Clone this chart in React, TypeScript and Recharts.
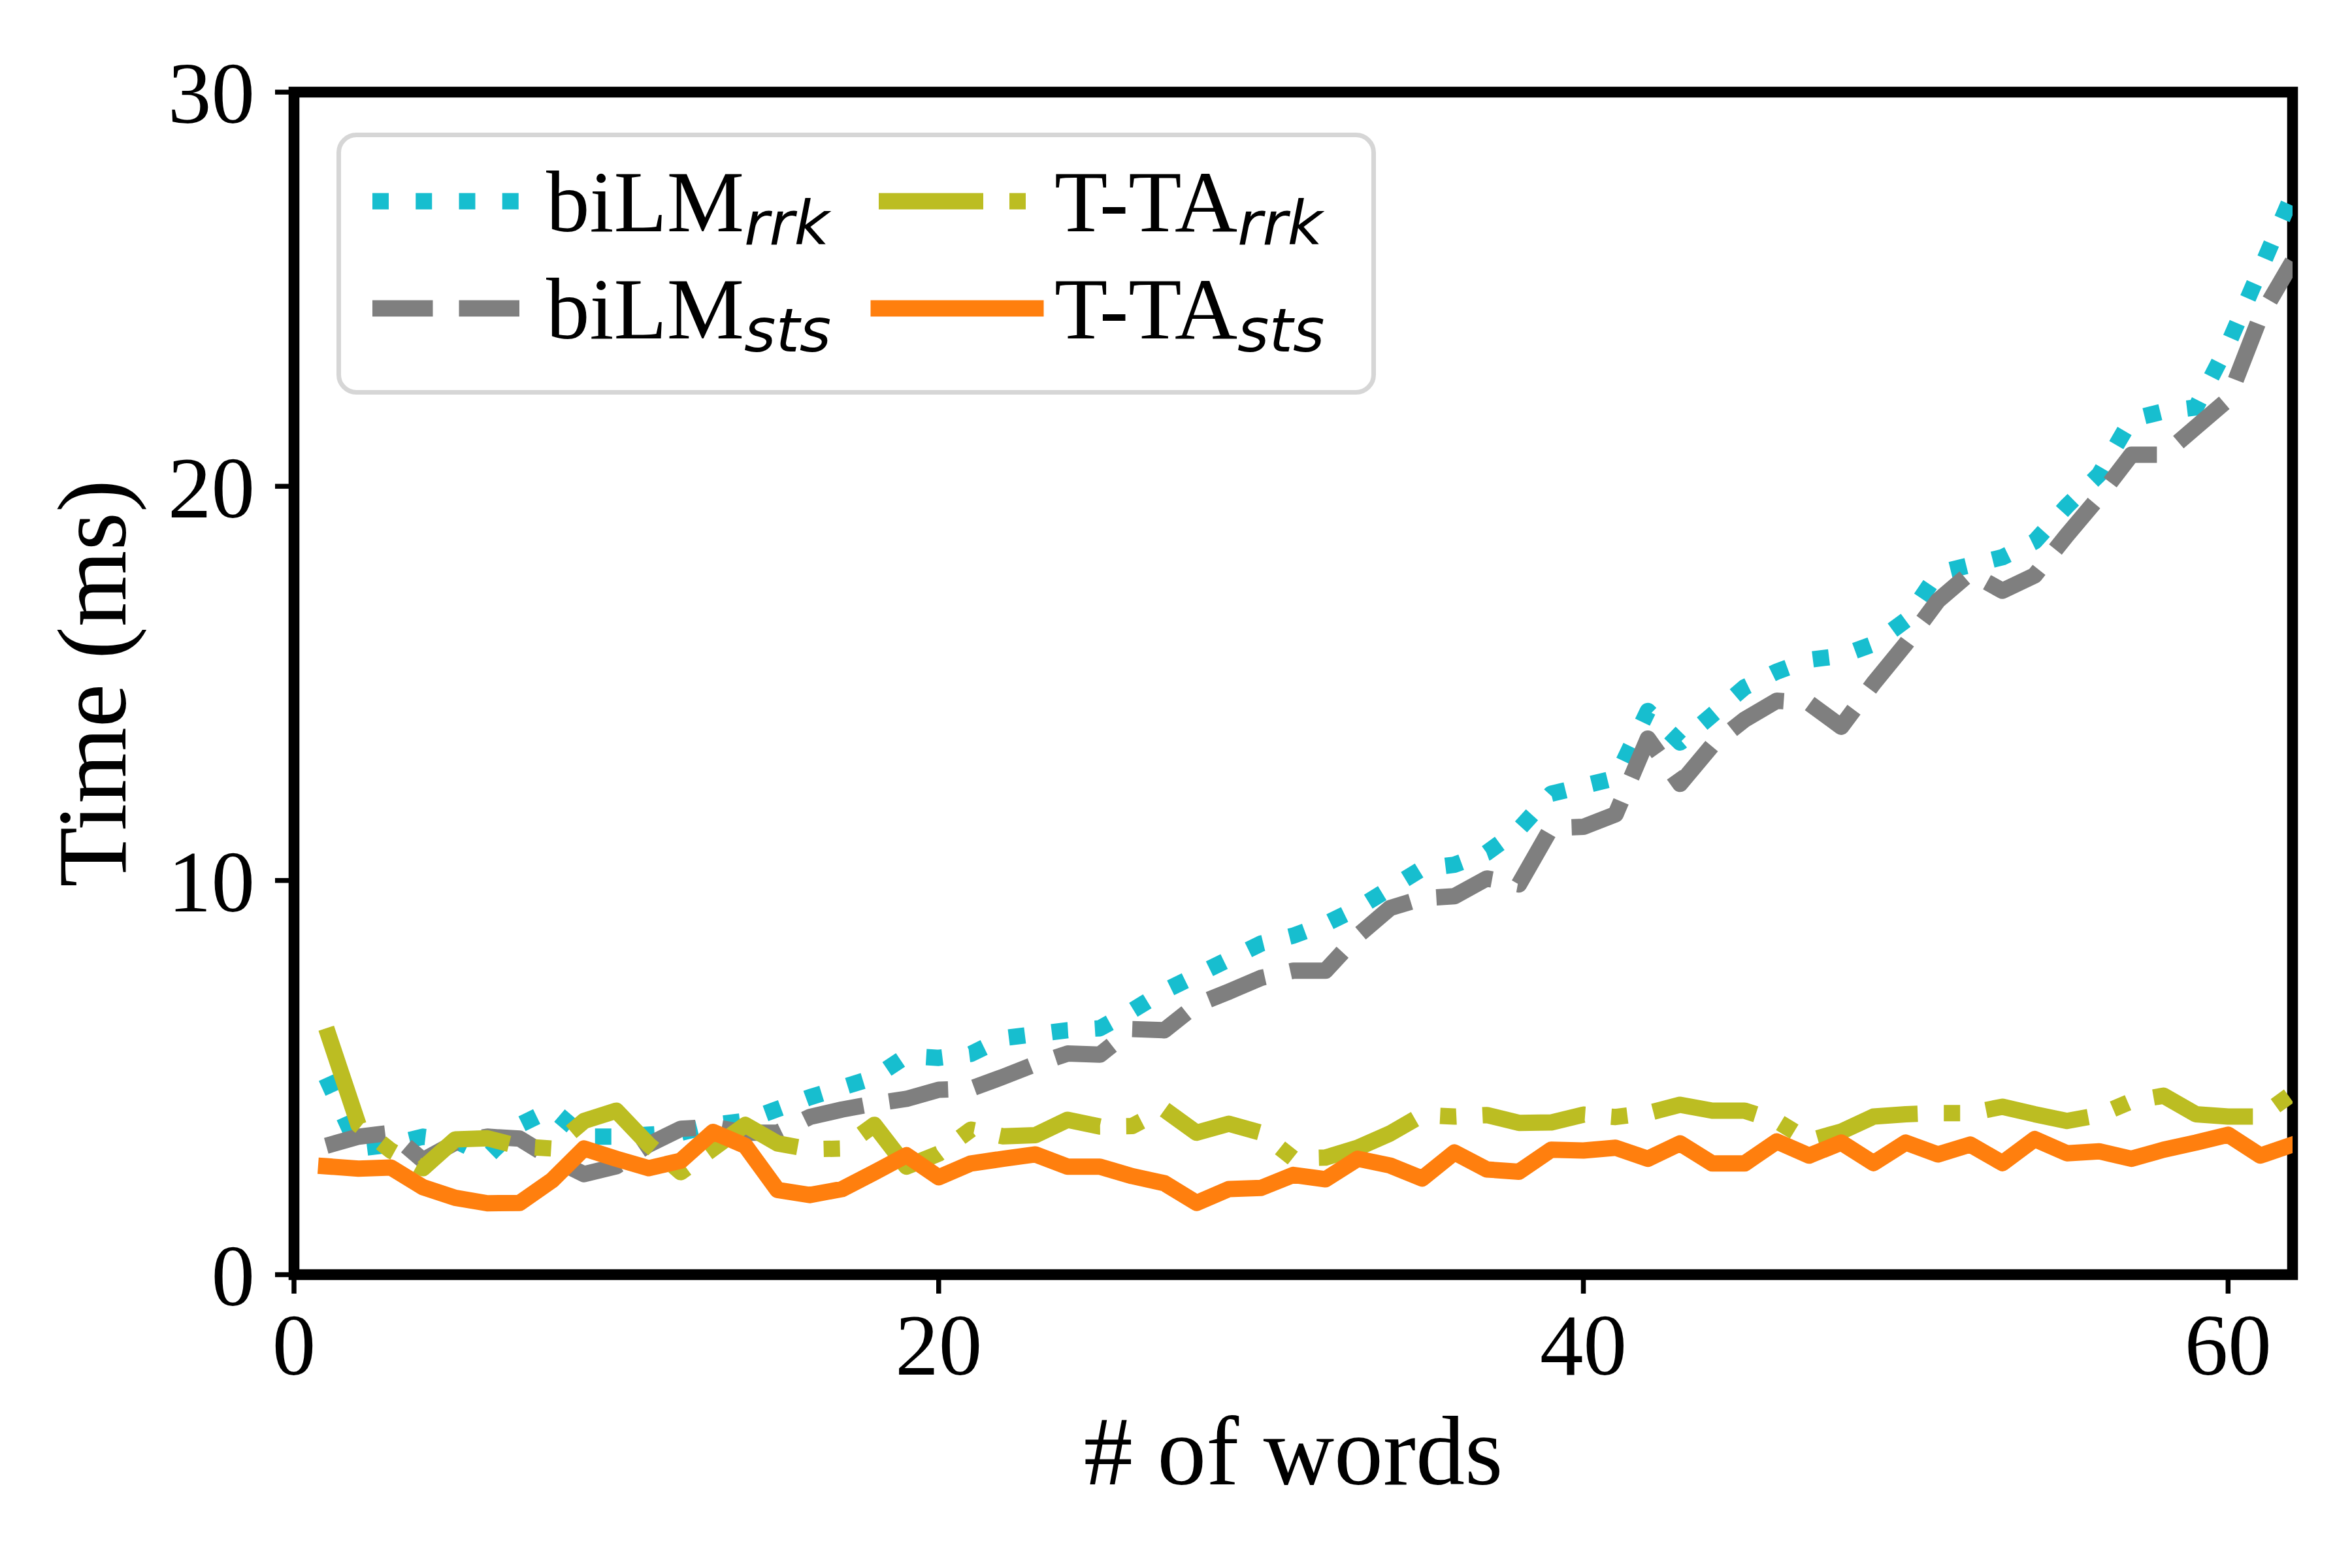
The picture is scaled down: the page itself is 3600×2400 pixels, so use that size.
import {
  LineChart,
  Line,
  XAxis,
  YAxis,
  Legend,
  ReferenceArea,
} from 'recharts';

const FONT = '"Liberation Serif", "Times New Roman", serif';
const SUB_FONT = '"DejaVu Sans", sans-serif';

// number of words (x axis)
const words = [
  1, 2, 3, 4, 5, 6, 7, 8, 9, 10, 11, 12, 13, 14, 15, 16, 17, 18, 19, 20, 21,
  22, 23, 24, 25, 26, 27, 28, 29, 30, 31, 32, 33, 34, 35, 36, 37, 38, 39, 40,
  41, 42, 43, 44, 45, 46, 47, 48, 49, 50, 51, 52, 53, 54, 55, 56, 57, 58, 59,
  60, 61, 62,
];

// time in ms
const biLMrrk = [
  5.0, 3.2, 3.3, 3.5, 3.4, 3.0, 3.8, 4.2, 3.5, 3.5,
  3.55, 3.6, 3.8, 3.9, 4.2, 4.5, 4.75, 5.0, 5.55, 5.5,
  5.6, 6.0, 6.1, 6.2, 6.25, 6.7, 7.2, 7.6, 8.0, 8.4,
  8.6, 8.9, 9.3, 9.8, 10.3, 10.4, 10.7, 11.3, 12.2, 12.4,
  12.6, 14.3, 13.5, 14.2, 14.9, 15.3, 15.6, 15.7, 16.0, 16.6,
  17.8, 18.0, 18.2, 18.6, 19.5, 20.3, 21.7, 21.9, 22.0, 23.6,
  25.5, 27.4,
];

const biLMsts = [
  3.27, 3.5, 3.6, 2.9, 3.35, 3.5, 3.45, 2.95, 2.55, 2.75,
  3.3, 3.7, 3.75, 3.6, 3.6, 4.0, 4.19, 4.34, 4.46, 4.69,
  4.72, 5.02, 5.34, 5.61, 5.58, 6.23, 6.2, 6.85, 7.18, 7.53,
  7.71, 7.71, 8.6, 9.3, 9.55, 9.6, 10.05, 9.9, 11.33, 11.36,
  11.68, 13.6, 12.45, 13.43, 14.08, 14.56, 14.5, 13.9, 15.0, 16.0,
  17.1, 17.8, 17.35, 17.74, 18.76, 19.73, 20.8, 20.8, 21.5, 22.2,
  24.3, 25.7,
];

const ttaRrk = [
  6.25, 3.8, 3.15, 2.7, 3.43, 3.46, 3.25, 3.2, 3.9, 4.16,
  3.3, 2.6, 3.2, 3.8, 3.33, 3.18, 3.2, 3.8, 2.74, 3.07,
  3.68, 3.51, 3.54, 3.93, 3.76, 3.77, 4.19, 3.6, 3.83, 3.6,
  2.95, 2.97, 3.22, 3.58, 4.05, 4.01, 4.05, 3.85, 3.86, 4.06,
  4.0, 4.1, 4.31, 4.16, 4.16, 3.9, 3.4, 3.63, 4.01, 4.07,
  4.1, 4.1, 4.26, 4.07, 3.9, 4.05, 4.4, 4.54, 4.07, 4.01,
  4.01, 4.6,
];

const ttaSts = [
  2.75, 2.69, 2.72, 2.22, 1.95, 1.81, 1.82, 2.39, 3.2, 2.94,
  2.7, 2.89, 3.62, 3.27, 2.15, 2.02, 2.17, 2.59, 3.03, 2.47,
  2.82, 2.94, 3.05, 2.74, 2.74, 2.5, 2.32, 1.82, 2.17, 2.2,
  2.53, 2.42, 2.94, 2.77, 2.44, 3.1, 2.67, 2.61, 3.17, 3.15,
  3.22, 2.94, 3.33, 2.82, 2.82, 3.38, 3.02, 3.35, 2.83, 3.35,
  3.05, 3.3, 2.83, 3.44, 3.08, 3.13, 2.94, 3.17, 3.35, 3.55,
  3.02, 3.3,
];

const xTicks = [0, 20, 40, 60];
const yTicks = [0, 10, 20, 30];

const LW = 25;

// legend order: column by column, like matplotlib with ncol=2
const series = [
  { key: 'biLMrrk', base: 'biLM', sub: 'rrk', color: '#17becf', dash: `${LW} ${LW * 1.65}`, cap: 'butt' },
  { key: 'biLMsts', base: 'biLM', sub: 'sts', color: '#7f7f7f', dash: `${LW * 3.7} ${LW * 1.6}`, cap: 'butt' },
  { key: 'ttaRrk', base: 'T-TA', sub: 'rrk', color: '#bcbd22', dash: `${LW * 6.4} ${LW * 1.6} ${LW} ${LW * 1.6}`, cap: 'butt' },
  { key: 'ttaSts', base: 'T-TA', sub: 'sts', color: '#ff7f0e', dash: undefined, cap: 'square' },
];

const data = words.map((w, i) => ({
  words: w,
  biLMrrk: biLMrrk[i],
  biLMsts: biLMsts[i],
  ttaRrk: ttaRrk[i],
  ttaSts: ttaSts[i],
}));

function LegendBox() {
  const rows = [105, 269];
  const cols = [
    { x1: 55, x2: 295, tx: 321 },
    { x1: 830, x2: 1070, tx: 1099 },
  ];
  return (
    <svg width={1591} height={401} style={{ display: 'block' }}>
      <rect
        x={3.5}
        y={3.5}
        width={1584}
        height={394}
        rx={27}
        fill="#fff"
        stroke="#d6d6d6"
        strokeWidth={7}
      />
      {series.map((s, i) => {
        const c = cols[Math.floor(i / 2)];
        const y = rows[i % 2];
        return (
          <g key={s.key}>
            <line
              x1={c.x1}
              x2={c.x2}
              y1={y}
              y2={y}
              stroke={s.color}
              strokeWidth={LW}
              strokeDasharray={s.dash}
              strokeLinecap={s.cap as any}
            />
            <text x={c.tx} y={y + 46} fontFamily={FONT} fontSize={133} fill="#000">
              {s.base}
              <tspan fontFamily={SUB_FONT} fontStyle="italic" fontSize={93} dy={20}>
                {s.sub}
              </tspan>
            </text>
          </g>
        );
      })}
    </svg>
  );
}

const tickStyle = { fontSize: 133, fontFamily: FONT, fill: '#000' };

export default function App() {
  return (
    <div style={{ position: 'absolute', left: 0, top: 0, background: '#fff' }}>
      <LineChart
        width={3600}
        height={2400}
        data={data}
        margin={{ top: 141, right: 91, bottom: 0, left: 0 }}
      >
        <XAxis
          dataKey="words"
          type="number"
          domain={[0, 62]}
          ticks={xTicks}
          interval={0}
          allowDataOverflow
          height={449}
          axisLine={false}
          tickLine={{ stroke: '#000', strokeWidth: 7.5 }}
          tickSize={29}
          tickMargin={30}
          tick={tickStyle}
          label={(props: any) => {
            const vb = props.viewBox;
            return (
              <text
                x={vb.x + vb.width / 2}
                y={vb.y + 321}
                textAnchor="middle"
                fontFamily={FONT}
                fontSize={150}
                fill="#000"
              >
                # of words
              </text>
            );
          }}
        />
        <YAxis
          type="number"
          domain={[0, 30]}
          ticks={yTicks}
          interval={0}
          allowDataOverflow
          width={450}
          axisLine={false}
          tickLine={{ stroke: '#000', strokeWidth: 7.5 }}
          tickSize={29}
          tickMargin={31}
          tick={tickStyle}
          label={(props: any) => {
            const vb = props.viewBox;
            const cx = 192;
            const cy = vb.y + vb.height / 2;
            return (
              <text
                x={cx}
                y={cy}
                transform={`rotate(-90, ${cx}, ${cy})`}
                textAnchor="middle"
                fontFamily={FONT}
                fontSize={150}
                fill="#000"
              >
                Time (ms)
              </text>
            );
          }}
        />
        {series.map((s) => (
          <Line
            key={s.key}
            dataKey={s.key}
            type="linear"
            stroke={s.color}
            strokeWidth={LW}
            strokeDasharray={s.dash}
            strokeLinejoin="round"
            strokeLinecap={s.cap as any}
            dot={false}
            activeDot={false}
            isAnimationActive={false}
          />
        ))}
        <ReferenceArea
          x1={0}
          x2={62}
          y1={0}
          y2={30}
          fill="none"
          stroke="#000"
          strokeWidth={16.6}
        />
        <Legend
          layout="horizontal"
          verticalAlign="middle"
          align="center"
          content={() => <LegendBox />}
          wrapperStyle={{ left: 515, top: 203, width: 1591, height: 401, margin: 0, padding: 0 }}
        />
      </LineChart>
    </div>
  );
}
